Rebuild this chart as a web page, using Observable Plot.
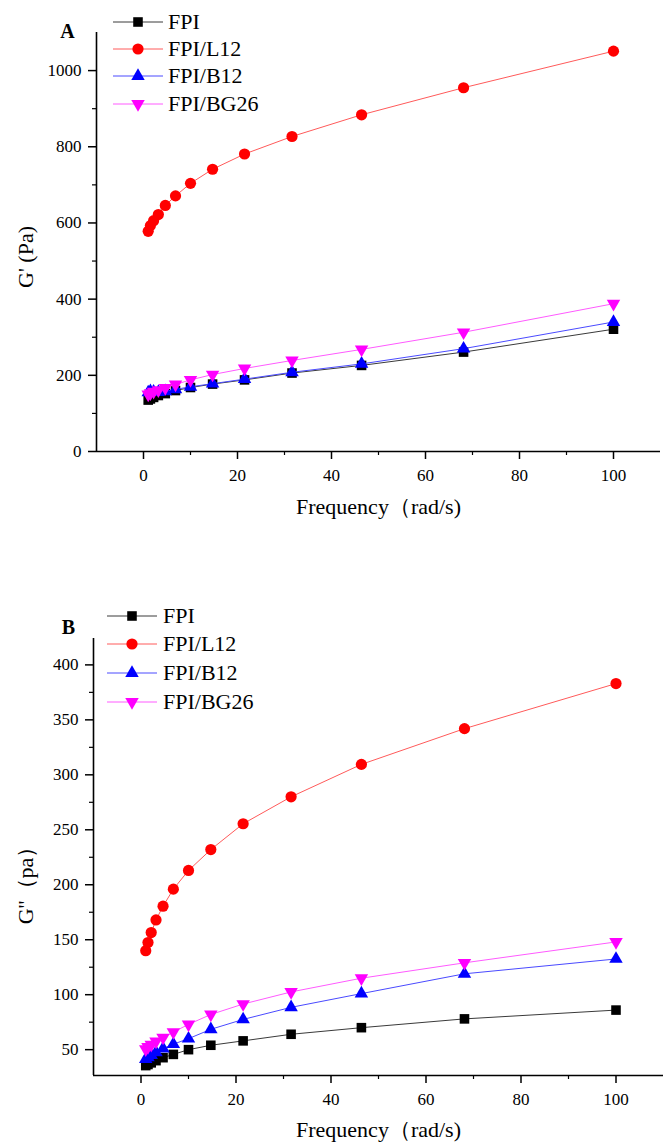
<!DOCTYPE html>
<html><head><meta charset="utf-8">
<script src="https://cdn.jsdelivr.net/npm/d3@7"></script>
<script src="https://cdn.jsdelivr.net/npm/@observablehq/plot@0.6"></script>
<style>
body{margin:0;background:#fff;}
#wrap{position:relative;width:665px;height:1144px;font-family:"Liberation Serif","Times New Roman",serif;overflow:hidden;}
.panel{position:absolute;left:0;}
.lg-sym{position:absolute;}
.lg-txt{position:absolute;font-size:22px;height:24px;line-height:24px;color:#000;white-space:nowrap;}
</style></head><body><div id="wrap"></div>
<script>
// ---------- data ----------
const freq = [1, 1.47, 2.15, 3.16, 4.64, 6.81, 10, 14.7, 21.5, 31.6, 46.4, 68.1, 100];
const seriesNames = ["FPI", "FPI/L12", "FPI/B12", "FPI/BG26"];

// Panel A: G' (Pa)
const gPrimeFPI  = [135, 138, 142, 147, 152, 160, 168, 177, 188, 206, 226, 261, 321];
const gPrimeL12  = [578, 593, 606, 622, 646, 671, 704, 741, 781, 827, 884, 955, 1051];
const gPrimeB12  = [155, 158, 157, 156, 158, 163, 170, 178, 190, 208, 230, 270, 340];
const gPrimeBG26 = [150, 153, 157, 161, 167, 176, 188, 202, 218, 239, 268, 313, 388];

// Panel B: G'' (pa)
const gDoubleFPI  = [35.5, 36.5, 38, 40, 42.7, 45.7, 50, 54, 58, 64, 70, 78, 86];
const gDoubleL12  = [140, 147.5, 156.5, 168, 180.5, 196, 213, 232, 255.5, 280, 309.5, 342, 383];
const gDoubleB12  = [41.5, 43, 45, 47.5, 51, 55, 60, 68.5, 77.5, 88.5, 101, 119, 132.5];
const gDoubleBG26 = [50.5, 52.5, 54.5, 57.5, 61, 66, 73, 82, 91.5, 102.5, 115, 129, 148];

const xTicks = [0, 20, 40, 60, 80, 100];
const xMinorTicks = [10, 30, 50, 70, 90];
const yTicksA = [0, 200, 400, 600, 800, 1000];
const yMinorA = [100, 300, 500, 700, 900];
const yTicksB = [50, 100, 150, 200, 250, 300, 350, 400];
const yMinorB = [75, 125, 175, 225, 275, 325, 375];

const xTitle = "Frequency\uFF08rad/s)";
const yTitleA = "G' (Pa)";
const yTitleB = "G''\uFF08pa\uFF09";

// ---------- styles ----------
const markerColors = ["#000000", "#ff0000", "#0000ff", "#ff00ff"];
const lineColors = ["#3a3a3a", "#ff5a5a", "#4a4aff", "#ff5aff"];
const sqrt3 = Math.sqrt(3);
const triangleDown = {
  draw(context, size) {
    const y = -Math.sqrt(size / (sqrt3 * 3));
    context.moveTo(0, -y * 2);
    context.lineTo(-sqrt3 * y, y);
    context.lineTo(sqrt3 * y, y);
    context.closePath();
  }
};
const symbols = ["square", "circle", "triangle", triangleDown];
const d3Symbols = [d3.symbolSquare, d3.symbolCircle, d3.symbolTriangle, triangleDown];
const radii = [5.4, 5.6, 5, 5];

function tidy(cols) {
  const rows = [];
  cols.forEach((vals, i) => vals.forEach((v, j) => rows.push({series: seriesNames[i], f: freq[j], v})));
  return rows;
}

function panel(cfg) {
  const data = tidy(cfg.values);
  const marks = [
    Plot.ruleX([cfg.xDomain[0]], {stroke: "#000", strokeWidth: 1.6}),
    Plot.ruleY([cfg.yDomain[0]], {stroke: "#000", strokeWidth: 1.6}),
    Plot.axisX({ticks: xTicks, tickSize: 8, tickPadding: 9, tickFormat: d => String(d), label: null, strokeWidth: 1.5}),
    Plot.axisX({ticks: xMinorTicks, tickSize: 4, tickFormat: () => "", label: null, strokeWidth: 1.2}),
    Plot.axisY({ticks: cfg.yTicks, tickSize: 8, tickPadding: 7, tickFormat: d => String(d), label: null, strokeWidth: 1.5}),
    Plot.axisY({ticks: cfg.yMinor, tickSize: 4, tickFormat: () => "", label: null, strokeWidth: 1.2})
  ];
  seriesNames.forEach((s, i) => {
    const rows = data.filter(d => d.series === s);
    marks.push(Plot.line(rows, {x: "f", y: "v", stroke: lineColors[i], strokeWidth: 1}));
    marks.push(Plot.dot(rows, {x: "f", y: "v", symbol: symbols[i], r: radii[i], fill: markerColors[i], stroke: "none"}));
  });
  marks.push(Plot.text([xTitle], {frameAnchor: "bottom", textAnchor: "middle", lineAnchor: "middle", dy: cfg.xtDy, fontSize: 22, fill: "#000"}));
  marks.push(Plot.text([cfg.yTitle], {frameAnchor: "left", textAnchor: "middle", lineAnchor: "middle", rotate: -90, dx: cfg.ytDx, dy: cfg.ytDy, fontSize: 22, fill: "#000"}));
  marks.push(Plot.text([cfg.tag], {frameAnchor: "top-left", textAnchor: "middle", lineAnchor: "middle", dx: cfg.tagDx, dy: cfg.tagDy, fontSize: 20, fontWeight: "bold", fill: "#000"}));
  return Plot.plot({
    width: 665,
    height: cfg.height,
    marginLeft: cfg.marginLeft,
    marginRight: cfg.marginRight,
    marginTop: cfg.marginTop,
    marginBottom: cfg.marginBottom,
    style: {fontFamily: "'Liberation Serif', 'Times New Roman', serif", fontSize: "17px", color: "#000", background: "transparent", overflow: "visible"},
    x: {domain: cfg.xDomain, label: null},
    y: {domain: cfg.yDomain, label: null},
    marks
  });
}

const wrap = document.getElementById("wrap");

function place(svg, top) {
  svg.classList.add("panel");
  svg.style.position = "absolute";
  svg.style.top = top + "px";
  svg.style.left = "0px";
  wrap.appendChild(svg);
}

place(panel({
  values: [gPrimeFPI, gPrimeL12, gPrimeB12, gPrimeBG26],
  xDomain: [-10, 110], yDomain: [0, 1100],
  yTicks: yTicksA, yMinor: yMinorA,
  height: 530, marginLeft: 96, marginRight: 5, marginTop: 32, marginBottom: 79,
  yTitle: yTitleA, tag: "A",
  xtDy: 55, ytDx: -71, ytDy: 15, tagDx: -29, tagDy: -1
}), 0);

place(panel({
  values: [gDoubleFPI, gDoubleL12, gDoubleB12, gDoubleBG26],
  xDomain: [-10, 110], yDomain: [26.5, 424],
  yTicks: yTicksB, yMinor: yMinorB,
  height: 584, marginLeft: 93, marginRight: 2, marginTop: 78, marginBottom: 69,
  yTitle: yTitleB, tag: "B",
  xtDy: 54, ytDx: -68, ytDy: 23, tagDx: -25, tagDy: -11
}), 560);

// ---------- legends (HTML overlays) ----------
function legend(lineX, textX, rowCenters) {
  seriesNames.forEach((s, i) => {
    const cy = rowCenters[i];
    const svg = d3.create("svg").attr("class", "lg-sym").attr("width", 50).attr("height", 20)
      .style("left", lineX + "px").style("top", (cy - 10) + "px");
    svg.append("line").attr("x1", 0).attr("x2", 50).attr("y1", 10).attr("y2", 10)
      .attr("stroke", lineColors[i]).attr("stroke-width", 1);
    svg.append("path").attr("transform", "translate(25,10)")
      .attr("d", d3.symbol(d3Symbols[i], Math.PI * radii[i] * radii[i])())
      .attr("fill", markerColors[i]);
    wrap.appendChild(svg.node());
    const t = document.createElement("div");
    t.className = "lg-txt";
    t.textContent = s;
    t.style.left = textX + "px";
    t.style.top = (cy - 12) + "px";
    wrap.appendChild(t);
  });
}
legend(113, 168, [21.5, 48.8, 76.2, 103.8]);
legend(107, 163, [615.5, 644, 673, 701.7]);
</script></body></html>
